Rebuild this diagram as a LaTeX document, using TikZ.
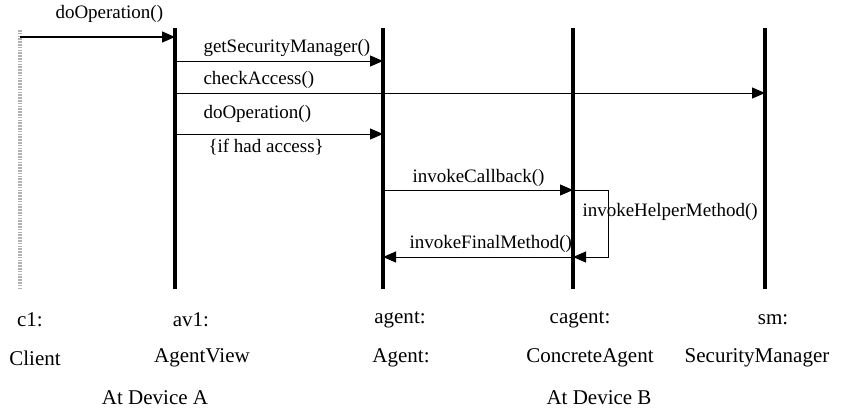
\documentclass[tikz,border=0pt]{standalone}
\usepackage{fontspec}
\setmainfont{Liberation Serif}
\usetikzlibrary{arrows.meta}
\begin{document}
\begin{tikzpicture}[x=0.5pt, y=-0.5pt, line width=0.5pt,
    life/.style={line width=1.6pt},
    msg/.style={-{Triangle[length=6.5pt, width=5.5pt]}},
    lbl/.style={font=\fontsize{9.5}{11}\selectfont, anchor=west, inner sep=0pt},
    obj/.style={font=\fontsize{10.5}{12}\selectfont, inner sep=0pt}]
  \useasboundingbox (0,0) rectangle (844,419);
  % lifelines
  \coordinate (c1) at (20,30);
  \coordinate (c1end) at (20,290);
  \draw[gray!60, line width=2.4pt, dash pattern=on 0.8pt off 0.6pt] (c1) -- (c1end);
  \foreach \o/\x in {av1/175, agent/383, cagent/573, sm/765} {
    \coordinate (\o) at (\x,28);
    \coordinate (\o end) at (\x,289);
    \draw[life] (\o) -- (\o end);
  }
  % messages
  \draw[msg, line width=0.7pt] (c1 |- 0,37) -- (av1 |- 0,37);
  \node[lbl] (m1) at (55,14) {doOperation()};
  \draw[msg] (av1 |- 0,61) -- (agent |- 0,61);
  \node[lbl] (m2) at (203,48) {getSecurityManager()};
  \draw[msg] (av1 |- 0,93) -- (sm |- 0,93);
  \node[lbl] (m3) at (203,80) {checkAccess()};
  \draw[msg] (av1 |- 0,134) -- (agent |- 0,134);
  \node[lbl] (m4) at (203,114) {doOperation()};
  \node[lbl] (m4b) at (208,147) {\{if had access\}};
  \draw[msg] (agent |- 0,190) -- (cagent |- 0,190);
  \node[lbl] (m5) at (412,178) {invokeCallback()};
  \draw[msg] (cagent |- 0,190) -| (608,257) -- (cagent |- 0,257);
  \node[lbl] (m6) at (582,212) {invokeHelperMethod()};
  \draw[msg] (cagent |- 0,257) -- (agent |- 0,257);
  \node[lbl] (m7) at (409,244) {invokeFinalMethod()};
  % objects
  \node[obj] (c1name) at (30,320) {c1:};
  \node[obj] (c1type) at (35,358) {Client};
  \node[obj] (av1name) at (191,320) {av1:};
  \node[obj] (av1type) at (202,358) {AgentView};
  \node[obj] (agentname) at (400,320) {agent:};
  \node[obj] (agenttype) at (401,358) {Agent:};
  \node[obj] (cagentname) at (580,320) {cagent:};
  \node[obj] (cagenttype) at (590,358) {ConcreteAgent};
  \node[obj] (smname) at (773,320) {sm:};
  \node[obj] (smtype) at (757,358) {SecurityManager};
  \node[obj] (devA) at (155,398) {At Device A};
  \node[obj] (devB) at (599,398) {At Device B};
\end{tikzpicture}
\end{document}
